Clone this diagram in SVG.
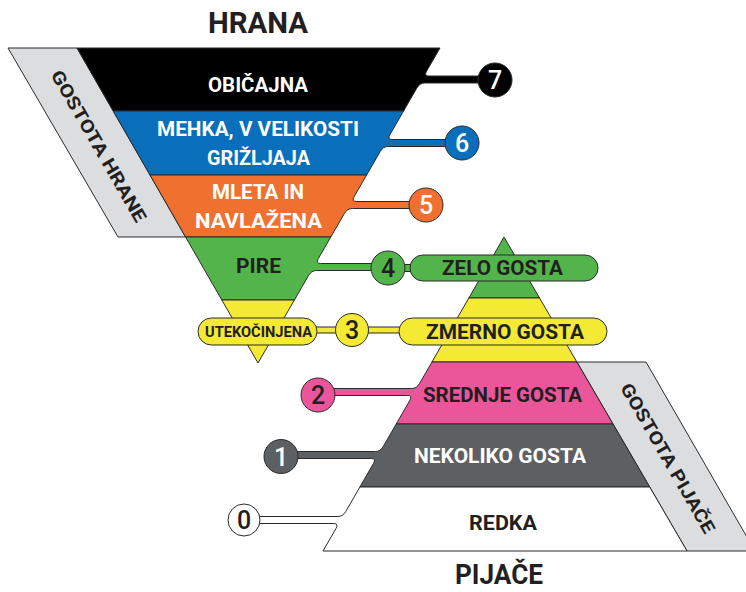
<svg xmlns="http://www.w3.org/2000/svg" width="746" height="592" viewBox="0 0 746 592">
<style>
.o{stroke:#2b2b2b;stroke-width:1;stroke-linejoin:round}
.t{font-family:Roboto,"Liberation Sans",sans-serif;font-weight:700;text-anchor:middle}
.w{fill:#ffffff}
.d{fill:#231f20}
.n{font-family:Roboto,"Liberation Sans",sans-serif;font-weight:500;font-size:25px;text-anchor:middle}
.band{fill:#dcdddf}
</style>
<rect width="746" height="592" fill="#ffffff"/>
<g id="titles">
<text class="t d" x="258" y="33" font-size="29" textLength="100" lengthAdjust="spacingAndGlyphs">HRANA</text>
<text class="t d" x="499" y="584" font-size="27" textLength="88" lengthAdjust="spacingAndGlyphs">PIJAČE</text>
</g>
<g id="band-hrana">
<polygon class="band o" points="8,48 77,48 185.6,237 118,237"/>
<text class="t d" font-size="18" transform="translate(99,146) rotate(60)" y="6.5" textLength="172" lengthAdjust="spacingAndGlyphs">GOSTOTA HRANE</text>
</g>
<g id="band-pijace">
<polygon class="band o" points="577,362 646,362 755,551 687,551"/>
<text class="t d" font-size="18" transform="translate(668,458) rotate(60)" y="6.5" textLength="170" lengthAdjust="spacingAndGlyphs">GOSTOTA PIJAČE</text>
</g>
<g id="food-7">
<path class="o" fill="#000000" d="M77,48 L440,48 L426.71,71 Q423.82,76 428.82,76 L495,76 L495,83 L424.78,83 Q419.78,83 416.89,88 L403.6,111 L113.2,111 Z"/>
<text class="t w" x="258" y="92" font-size="20" textLength="100" lengthAdjust="spacingAndGlyphs">OBIČAJNA</text>
</g>
<g id="food-6">
<path class="o" fill="#0a6fba" d="M113.2,111 L403.6,111 L390.02,134.5 Q387.13,139.5 392.13,139.5 L462,139.5 L462,146.5 L388.09,146.5 Q383.09,146.5 380.2,151.5 L366.62,175 L150,175 Z"/>
<text class="t w" x="258" y="136" font-size="20" textLength="202" lengthAdjust="spacingAndGlyphs">MEHKA, V VELIKOSTI</text>
<text class="t w" x="258.5" y="165" font-size="20" textLength="103" lengthAdjust="spacingAndGlyphs">GRIŽLJAJA</text>
</g>
<g id="food-5">
<path class="o" fill="#f07030" d="M150,175 L366.62,175 L354.2,196.5 Q351.31,201.5 356.31,201.5 L426,201.5 L426,208.5 L352.27,208.5 Q347.27,208.5 344.38,213.5 L330.8,237 L185.6,237 Z"/>
<text class="t w" x="258" y="199" font-size="20" textLength="92" lengthAdjust="spacingAndGlyphs">MLETA IN</text>
<text class="t w" x="258.5" y="228" font-size="20" textLength="127" lengthAdjust="spacingAndGlyphs">NAVLAŽENA</text>
</g>
<g id="food-4">
<path class="o" fill="#54b44c" d="M185.6,237 L330.8,237 L318.38,258.5 Q315.49,263.5 320.49,263.5 L388,263.5 L388,270.5 L316.44,270.5 Q311.44,270.5 308.56,275.5 L294.4,300 L221.8,300 Z"/>
<text class="t d" x="258.5" y="273" font-size="20" textLength="45" lengthAdjust="spacingAndGlyphs">PIRE</text>
</g>
<g id="food-3">
<polygon class="o" fill="#f4ea33" points="221.8,300 294.4,300 258,363"/>
</g>
<g id="drink-4">
<polygon class="o" fill="#54b44c" points="504,237 539.55,298 468.84,298"/>
</g>
<g id="drink-3">
<polygon class="o" fill="#f4ea33" points="468.84,298 539.55,298 576.85,362 431.95,362"/>
</g>
<g id="drink-2">
<path class="o" fill="#eb569b" d="M431.95,362 L576.85,362 L612.98,424 L396.21,424 L409.76,400.5 Q412.64,395.5 407.64,395.5 L318,395.5 L318,388.5 L411.68,388.5 Q416.68,388.5 419.56,383.5 Z"/>
<text class="t d" x="502.5" y="402" font-size="20" textLength="159" lengthAdjust="spacingAndGlyphs">SREDNJE GOSTA</text>
</g>
<g id="drink-1">
<path class="o" fill="#5d6062" d="M396.21,424 L612.98,424 L649.7,487 L359.9,487 L373.44,463.5 Q376.33,458.5 371.33,458.5 L281,458.5 L281,451.5 L375.36,451.5 Q380.36,451.5 383.24,446.5 Z"/>
<text class="t w" x="500" y="463" font-size="20" textLength="172" lengthAdjust="spacingAndGlyphs">NEKOLIKO GOSTA</text>
</g>
<g id="drink-0">
<path class="o" fill="#ffffff" d="M359.9,487 L649.7,487 L687,551 L323,551 L335.98,528.5 Q338.86,523.5 333.86,523.5 L244,523.5 L244,516.5 L337.9,516.5 Q342.9,516.5 345.78,511.5 Z"/>
<text class="t d" x="503" y="530" font-size="20" textLength="68" lengthAdjust="spacingAndGlyphs">REDKA</text>
</g>
<g id="connectors">
<rect class="o" fill="#f4ea33" x="310" y="327" width="95" height="6"/>
<rect class="o" fill="#54b44c" x="395" y="264.5" width="22" height="7"/>
</g>
<g id="pill-utekocinjena">
<rect class="o" fill="#f4ea33" x="198" y="318" width="119" height="27" rx="13.5"/>
<text class="t d" x="258.5" y="337" font-size="15" textLength="107" lengthAdjust="spacingAndGlyphs">UTEKOČINJENA</text>
</g>
<g id="pill-zelo">
<rect class="o" fill="#54b44c" x="410" y="255" width="188" height="26" rx="13"/>
<text class="t d" x="502.5" y="275" font-size="20" textLength="121" lengthAdjust="spacingAndGlyphs">ZELO GOSTA</text>
</g>
<g id="pill-zmerno">
<rect class="o" fill="#f4ea33" x="399" y="318" width="208" height="27" rx="13.5"/>
<text class="t d" x="505" y="339" font-size="20" textLength="158" lengthAdjust="spacingAndGlyphs">ZMERNO GOSTA</text>
</g>
<g id="badge-7"><circle class="o" fill="#000000" cx="495" cy="80" r="17"/><text class="n w" x="495" y="89">7</text></g>
<g id="badge-6"><circle class="o" fill="#0a6fba" cx="462" cy="143" r="17"/><text class="n w" x="462" y="152">6</text></g>
<g id="badge-5"><circle class="o" fill="#f07030" cx="426" cy="205" r="17"/><text class="n w" x="426" y="214">5</text></g>
<g id="badge-4"><circle class="o" fill="#54b44c" cx="388" cy="268" r="17"/><text class="n d" x="388" y="277">4</text></g>
<g id="badge-3"><circle class="o" fill="#f4ea33" cx="352" cy="330" r="16.5"/><text class="n d" x="352" y="339">3</text></g>
<g id="badge-2"><circle class="o" fill="#eb569b" cx="318" cy="395" r="17"/><text class="n d" x="318" y="404">2</text></g>
<g id="badge-1"><circle class="o" fill="#5d6062" cx="281" cy="456.5" r="17"/><text class="n w" x="281" y="465.5">1</text></g>
<g id="badge-0"><circle class="o" fill="#ffffff" cx="244" cy="520" r="16"/><text class="n d" x="244" y="529">0</text></g>
</svg>
